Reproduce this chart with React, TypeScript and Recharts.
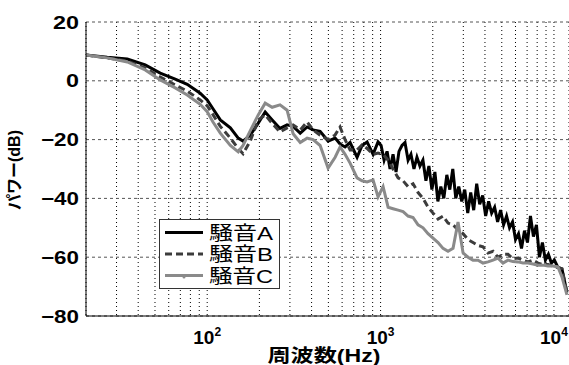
import { LineChart, Line, XAxis, YAxis, CartesianGrid } from "recharts";

// 周波数 (Hz) shared by 騒音B and 騒音C
const freqs = [
  20, 26.5, 34.6, 43.9, 53.6, 65.4, 76.7, 91.1, 100, 108, 119, 136, 151, 161, 177, 197, 216,
  237, 263, 289, 313, 344, 377, 408, 448, 498, 547, 584, 624, 667, 732, 782, 836, 905, 967,
  1034, 1105, 1180, 1262, 1348, 1441, 1539, 1645, 1758, 1878, 2007, 2145, 2292, 2449, 2618,
  2797, 2989, 3194, 3413, 3648, 3898, 4165, 4451, 4756, 5083, 5431, 5804, 6202, 6628, 7082,
  7569, 8088, 8643, 9236, 9868, 10545, 11119, 11880,
];

// 騒音A is much rougher above 1 kHz, so it gets its own, denser frequency list
const freqsA = [
  20, 26.5, 34.6, 43.9, 53.6, 65.4, 76.7, 91.1, 100, 108, 119, 136, 151, 161, 177, 197, 216,
  237, 263, 289, 313, 344, 377, 408, 448, 498, 547, 584, 624, 667, 732, 782, 836, 905, 967,
  1007, 1048, 1090, 1134, 1180, 1228, 1277, 1329, 1383, 1441, 1497, 1558, 1621, 1686, 1755,
  1826, 1900, 1977, 2057, 2140, 2226, 2316, 2410, 2508, 2609, 2715, 2825, 2939, 3058, 3182,
  3310, 3444, 3584, 3729, 3880, 4037, 4200, 4370, 4547, 4731, 4922, 5122, 5329, 5544, 5769,
  6002, 6245, 6498, 6761, 7034, 7319, 7615, 7923, 8244, 8577, 8924, 9286, 9661, 10052, 10545,
  11119, 11880,
];

// 騒音A (dB)
const noiseA = [
  8.8, 8.0, 7.4, 5.4, 2.6, 0.6, -1.2, -4.2, -6.5, -9.5, -13.3, -16, -19.5, -20.5, -18.5, -14.4,
  -10.6, -13.3, -16.2, -15, -15.5, -17.8, -15.7, -16.7, -17.2, -20.5, -19.5, -21.5, -22.5, -21,
  -26, -22, -20.8, -25, -20.8,
  -22, -27, -24, -30, -25, -31, -24, -22, -21, -27,
  -25, -30, -26, -29, -27, -34, -29, -37, -31, -41,
  -36, -40, -32, -37, -30, -40, -36, -41, -37, -45,
  -38, -44, -35, -42, -39, -46, -41, -45, -43, -48,
  -44, -49, -46, -50, -48, -54, -52, -57, -51, -55,
  -46, -53, -49, -60, -55, -61, -59, -62, -61,
  -63.5, -64, -72,
];

// 騒音B (dB)
const noiseB = [
  8.8, 7.8, 6.7, 4.4, 1.3, -1.4, -3.5, -6.5, -8.5, -11.5, -15.5, -19.5, -23, -24.8, -20.5,
  -13.3, -11.6, -14.5, -17.4, -16, -15, -16.7, -14, -16.7, -18.5, -20, -18.4, -15.7, -20, -23.5,
  -23.5, -21.8, -23, -25, -24.6, -25, -27, -30, -33, -34, -36, -35, -38, -40, -43, -45, -47, -46,
  -48.4, -49, -50.7, -52, -54, -55, -56, -56.5, -58.6, -58, -60, -59, -59, -60.5, -60.3, -61,
  -61.6, -61, -62, -62.5, -62.5, -63, -63.5, -64, -72,
];

// 騒音C (dB)
const noiseC = [
  8.8, 7.8, 6.4, 3.7, 0.3, -2.4, -4.8, -8, -10.5, -14, -17.8, -22, -24.2, -22, -17, -11.6, -7.6,
  -9, -8.2, -10, -18, -21, -19.5, -20, -22, -29.7, -26, -22.5, -25, -28, -33, -34, -34.4, -33.7,
  -39.5, -36, -43, -43.5, -44, -44.5, -46, -46.5, -49, -50, -52, -53.5, -55, -57, -58, -57, -48,
  -58.5, -60, -61, -61, -62, -61.6, -61, -60.3, -62, -61, -61.5, -61.6, -62, -62, -62.3, -62.7,
  -62.7, -63, -63, -63.3, -66.7, -72.8,
];

const xTicks = [
  30, 40, 50, 60, 70, 80, 90, 100, 200, 300, 400, 500, 600, 700, 800, 900, 1000, 2000, 3000,
  4000, 5000, 6000, 7000, 8000, 9000, 10000,
];
const yTicks = [-80, -60, -40, -20, 0, 20];
const decadeLabels: Record<number, string> = { 100: "2", 1000: "3", 10000: "4" };

const dataA = freqsA.map((f, i) => ({ f, v: noiseA[i] }));
const dataB = freqs.map((f, i) => ({ f, v: noiseB[i] }));
const dataC = freqs.map((f, i) => ({ f, v: noiseC[i] }));

const font = "'Liberation Sans', Arial, 'Noto Sans CJK JP', sans-serif";

const XTick = ({ x, y, payload }: any) => {
  const exp = decadeLabels[payload.value];
  if (!exp) return null;
  return (
    <text x={x} y={y + 26} textAnchor="middle" fontFamily={font} fontWeight="bold" fontSize={19} fill="#000">
      10
      <tspan dy={-8} fontSize={12}>
        {exp}
      </tspan>
    </text>
  );
};

const YTick = ({ x, y, payload }: any) => {
  const label = String(payload.value).replace("-", "\u2212");
  const digits = label.replace("\u2212", "").length;
  const len = digits * 13 + (payload.value < 0 ? 12 : 0);
  return (
    <text
      x={x - 5}
      y={y + 6.5}
      textAnchor="end"
      textLength={len}
      lengthAdjust="spacingAndGlyphs"
      fontFamily={font}
      fontWeight="bold"
      fontSize={18}
      fill="#000"
    >
      {label}
    </text>
  );
};

const legendItems = [
  { name: "騒音A", color: "#000", dash: undefined, dot: false },
  { name: "騒音B", color: "#3c3c3c", dash: "7 4", dot: false },
  { name: "騒音C", color: "#8a8a8a", dash: undefined, dot: true },
];

export default function App() {
  return (
    <div style={{ position: "absolute", left: 0, top: 0, width: 569, height: 365, background: "#fff", overflow: "hidden" }}>
      <LineChart width={569} height={365} margin={{ top: 22, right: 0, bottom: 0, left: 0 }}>
        <CartesianGrid horizontal={false} stroke="#000" strokeDasharray="1 3" />
        <CartesianGrid vertical={false} stroke="#555" strokeDasharray="3 3" />
        <XAxis
          dataKey="f"
          type="number"
          scale="log"
          domain={[20, 12210]}
          allowDataOverflow
          ticks={xTicks}
          interval={0}
          height={49}
          tickLine={false}
          tickSize={0}
          tick={<XTick />}
          axisLine={{ stroke: "#000" }}
          label={{
            content: () => (
              <text
                x={324}
                y={362}
                textAnchor="middle"
                textLength={113}
                lengthAdjust="spacingAndGlyphs"
                fontFamily={font}
                fontWeight="bold"
                fontSize={18}
                fill="#000"
              >
                周波数(Hz)
              </text>
            ),
          }}
        />
        <YAxis
          type="number"
          domain={[-80, 20]}
          ticks={yTicks}
          interval={0}
          width={86}
          tickLine={false}
          tickSize={0}
          tick={<YTick />}
          axisLine={{ stroke: "#000" }}
          label={{
            content: () => (
              <text
                x={14}
                y={170}
                transform="rotate(-90 14 170)"
                textAnchor="middle"
                dominantBaseline="central"
                fontFamily={font}
                fontWeight="bold"
                fontSize={16}
                fill="#000"
              >
                パワー(dB)
              </text>
            ),
          }}
        />
        <Line data={dataA} dataKey="v" name="騒音A" stroke="#000" strokeWidth={3} dot={false} isAnimationActive={false} />
        <Line
          data={dataB}
          dataKey="v"
          name="騒音B"
          stroke="#3c3c3c"
          strokeWidth={3}
          strokeDasharray="7 4"
          dot={false}
          isAnimationActive={false}
        />
        <Line data={dataC} dataKey="v" name="騒音C" stroke="#8a8a8a" strokeWidth={3} dot={false} isAnimationActive={false} />
      </LineChart>
      <svg width={121} height={70} style={{ position: "absolute", left: 159, top: 219 }}>
        <rect x={0.5} y={0.5} width={120} height={69} fill="#fff" stroke="#333" />
        {legendItems.map((it, i) => {
          const cy = 13.5 + i * 21.5;
          return (
            <g key={it.name}>
              <line x1={6} x2={44} y1={cy} y2={cy} stroke={it.color} strokeWidth={3} strokeDasharray={it.dash} />
              {it.dot && <circle cx={25} cy={cy + 1.5} r={1.5} fill={it.color} />}
              <text
                x={50}
                y={cy + 7}
                textLength={64}
                lengthAdjust="spacingAndGlyphs"
                fontFamily={font}
                fontSize={19}
                fill="#000"
              >
                {it.name}
              </text>
            </g>
          );
        })}
      </svg>
    </div>
  );
}
